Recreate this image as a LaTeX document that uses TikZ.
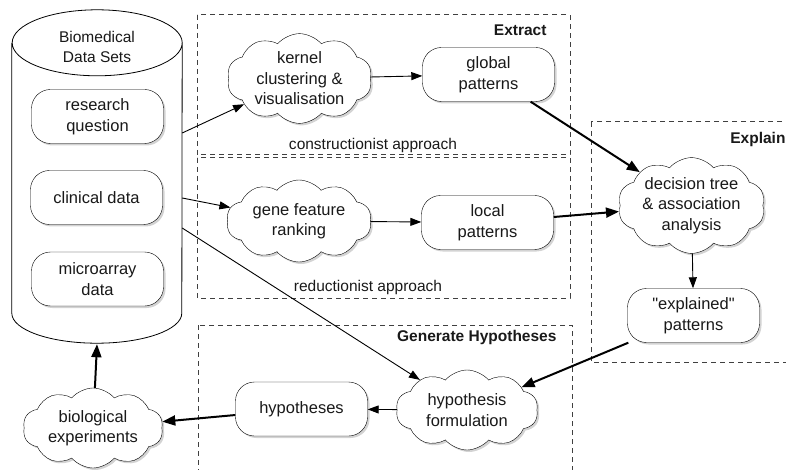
\documentclass[tikz,border=0pt]{standalone}
\usepackage{fontspec}
\setmainfont{Liberation Sans}
\newfontfamily\plainsans{Liberation Sans}
\usetikzlibrary{shapes.symbols,shadows,arrows.meta}
\begin{document}
\begin{tikzpicture}[x=1pt,y=-1pt,
 every node/.style={font=\fontsize{16.5}{20.5}\selectfont, align=center, text=black!90},
 shad/.style={drop shadow={opacity=0.35, shadow xshift=2pt, shadow yshift=-2pt}},
 box/.style={draw, fill=white, rounded corners=19pt, minimum width=132pt, minimum height=54pt, inner sep=0pt, shad},
 cloudnode/.style={cloud, cloud puffs=10, cloud puff arc=100, cloud ignores aspect, draw, fill=white, minimum width=140pt, minimum height=78pt, inner sep=0pt, shad},
 group/.style={draw=black!75, dash pattern=on 5pt off 4pt, line width=1pt},
 thinarrow/.style={-{Triangle[length=11pt,width=8pt]}, line width=0.9pt},
 thickarrow/.style={-{Triangle[length=13pt,width=10pt]}, line width=2pt},
 approach/.style={font=\fontsize{15.5}{18}\selectfont},
 grouptitle/.style={font=\fontsize{15.5}{18}\selectfont\bfseries, anchor=east},
]
\useasboundingbox (0,0) rectangle (786,470);
% groups
\draw[group] (197,15) rectangle (570,155);
\draw[group] (197,158) rectangle (570,298);
\draw[group] (591,122) rectangle (820,362);
\draw[group] (198,325) rectangle (572,490);
\node[grouptitle] (extractlbl) at (550,30) {Extract};
\node[grouptitle] (explainlbl) at (789,139) {Explain};
\node[grouptitle] (genlbl) at (560,337) {Generate Hypotheses};
\node[approach] (constr) at (373,145) {constructionist approach};
\node[approach] (reduct) at (368,287) {reductionist approach};
% cylinder
\node[minimum width=170pt, minimum height=270pt, inner sep=0pt] (db) at (97,178) {};
\draw[fill=white, line width=0.8pt] (db.north west) -- (db.south west)
  arc[start angle=180, end angle=360, x radius=85pt, y radius=30pt] -- (db.north east)
  arc[start angle=0, end angle=360, x radius=85pt, y radius=33pt];
\node[font=\fontsize{15.5}{19.5}\selectfont] (dbtitle) at (97,47) {Biomedical\\Data Sets};
\node[box] (rq) at (97.5,116.5) {research\\question};
\node[box] (cd) at (96.5,197.5) {clinical data};
\node[box] (ma) at (97.5,279) {microarray\\data};
% extract
\node[cloudnode, minimum width=145pt, minimum height=83pt] (kernel) at (299.5,78.5) {kernel\\clustering \&\\visualisation};
\node[box] (global) at (488.5,74.5) {global\\patterns};
\node[cloudnode, minimum width=145pt, minimum height=82pt] (gene) at (299,221) {gene feature\\ranking};
\node[box] (local) at (487.5,222.5) {local\\patterns};
% explain
\node[cloudnode, minimum width=147pt, minimum height=78pt] (dec) at (691.5,205.5) {decision tree\\\& association\\analysis};
\node[box] (expl) at (693.5,315.5) {{\plainsans "explained"}\\patterns};
% hypotheses
\node[cloudnode, minimum width=142pt, minimum height=80pt] (hf) at (467,410) {hypothesis\\formulation};
\node[box] (hyp) at (301.5,409) {hypotheses};
\node[cloudnode, minimum width=140pt, minimum height=80pt] (bio) at (93,428) {biological\\experiments};
% connectors
\draw[thinarrow] ([yshift=45pt]db.east) -- (kernel);
\draw[thinarrow] ([yshift=-20pt]db.east) -- (gene);
\draw[thinarrow] ([yshift=-50pt]db.east) -- (hf);
\draw[thinarrow] (kernel) -- (global);
\draw[thinarrow] (gene) -- (local);
\draw[thickarrow] (global) -- (dec);
\draw[thickarrow] (local) -- (dec);
\draw[thinarrow] (dec) -- (expl);
\draw[thickarrow] (expl) -- (hf);
\draw[thinarrow] (hf) -- (hyp);
\draw[thickarrow] (hyp) -- (bio);
\draw[thickarrow] (bio) -- ([yshift=-31pt]db.south);
\end{tikzpicture}
\end{document}
